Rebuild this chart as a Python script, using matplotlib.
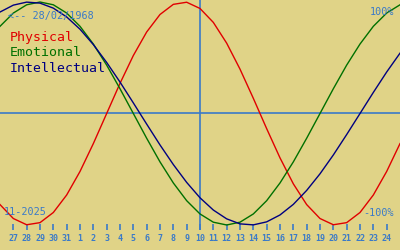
import matplotlib
matplotlib.use('Agg')
import matplotlib.pyplot as plt

# days shown: 27 Oct .. 24 Nov 2025, plus one day either side at the edges
day_labels = ['27', '28', '29', '30', '31', '1', '2', '3', '4', '5', '6', '7', '8', '9',
              '10', '11', '12', '13', '14', '15', '16', '17', '18', '19', '20', '21', '22', '23', '24']
day_idx = list(range(-1, 30))  # -1 .. 29
today_idx = 14  # day 10

# biorhythm values (-1 .. 1), one per day
physical = [-0.817, -0.942, -0.998, -0.979, -0.888, -0.731, -0.520, -0.270, 0.0, 0.270,
            0.520, 0.731, 0.888, 0.979, 0.998, 0.942, 0.817, 0.631, 0.398, 0.136,
            -0.136, -0.398, -0.631, -0.817, -0.942, -0.998, -0.979, -0.888, -0.731, -0.520,
            -0.270]
emotional = [0.782, 0.901, 0.975, 1.0, 0.975, 0.901, 0.782, 0.623, 0.434, 0.222,
             0.0, -0.222, -0.434, -0.623, -0.782, -0.901, -0.975, -1.0, -0.975, -0.901,
             -0.782, -0.623, -0.434, -0.222, 0.0, 0.222, 0.434, 0.623, 0.782, 0.901,
             0.975]
intellectual = [0.910, 0.972, 0.999, 0.990, 0.945, 0.866, 0.756, 0.618, 0.458, 0.282,
                0.095, -0.095, -0.282, -0.458, -0.618, -0.756, -0.866, -0.945, -0.990, -0.999,
                -0.972, -0.910, -0.815, -0.690, -0.541, -0.372, -0.189, 0.0, 0.189, 0.372,
                0.541]

bg = '#E0D387'
blue = '#3A7AC8'
mono = 'DejaVu Sans Mono'

fig = plt.figure(figsize=(4, 2.5), dpi=100, facecolor=bg)
ax = fig.add_axes([0, 20 / 250, 1, 230 / 250])
ax.set_facecolor(bg)

ax.axhline(0, color=blue, lw=1.2)
ax.axvline(today_idx, color=blue, lw=1.2)

ax.plot(day_idx, physical, color='#E00000', lw=1)
ax.plot(day_idx, emotional, color='#007000', lw=1)
ax.plot(day_idx, intellectual, color='#000080', lw=1)

ax.set_xlim(-1, 29)
ax.set_ylim(-1.045, 1.018)

ax.set_xticks(range(len(day_labels)))
ax.set_xticklabels(day_labels, family=mono, fontsize=6, color=blue, fontweight='bold')
ax.tick_params(axis='x', direction='in', length=4, width=1.2, color=blue, pad=3)
ax.set_yticks([])
for s in ax.spines.values():
    s.set_visible(False)

# legend-like labels
fig.text(10 / 400, 1 - 38 / 250, 'Physical', family=mono, fontsize=9.5, color='#E00000', va='center')
fig.text(10 / 400, 1 - 53 / 250, 'Emotional', family=mono, fontsize=9.5, color='#007000', va='center')
fig.text(10 / 400, 1 - 68 / 250, 'Intellectual', family=mono, fontsize=9.5, color='#000080', va='center')

fig.text(8 / 400, 1 - 16 / 250, '<-- 28/02/1968', family=mono, fontsize=7.3, color=blue, va='center')
fig.text(394 / 400, 1 - 12 / 250, '100%', family=mono, fontsize=7.3, color=blue, va='center', ha='right')
fig.text(394 / 400, 1 - 213 / 250, '-100%', family=mono, fontsize=7.3, color=blue, va='center', ha='right')
fig.text(4 / 400, 1 - 212 / 250, '11-2025', family=mono, fontsize=7.3, color=blue, va='center')

fig.savefig('out.png', dpi=100, facecolor=bg)
